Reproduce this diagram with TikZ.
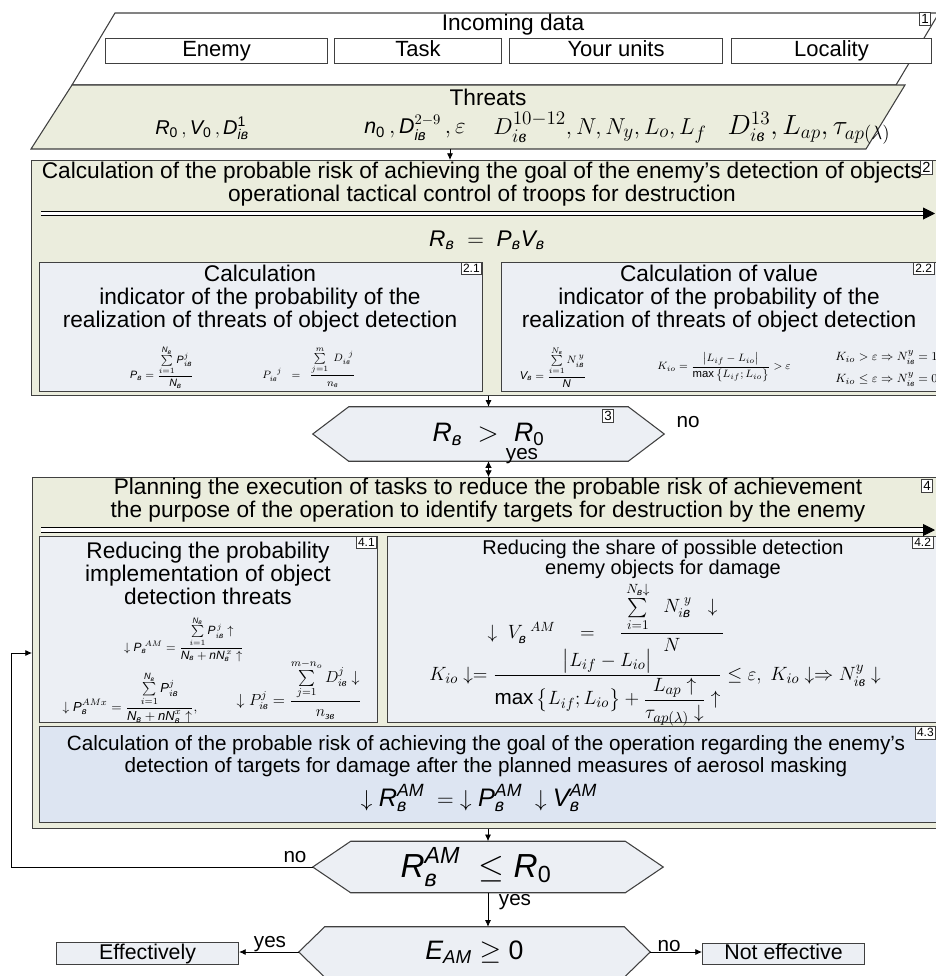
\documentclass[tikz,border=0pt]{standalone}
\usepackage{amsmath}
\usepackage{fontspec}
\setmainfont{Liberation Sans}
\newfontfamily\tmsfont{Liberation Serif}
\usepackage{tikz}
\usetikzlibrary{arrows.meta,backgrounds}
\definecolor{SchemeGreen}{RGB}{235,237,221}
\definecolor{SchemeGrey}{RGB}{236,239,244}
\definecolor{SchemeBlue}{RGB}{221,229,242}
\definecolor{SchemeLine}{RGB}{64,64,64}
\newcommand{\sv}[1]{\text{\itshape #1}}
\newcommand{\vv}{\text{\itshape в}}
\newcommand{\vs}{\text{\tmsfont\itshape в}}

\begin{document}
\begin{tikzpicture}[x=0.75pt,y=-0.75pt,
  every node/.style={font=\fontsize{17}{17.25}\selectfont},
  blk/.style n args={3}{draw=SchemeLine,fill=#1,minimum width=#2*0.75pt,minimum height=#3*0.75pt,anchor=north west,inner sep=0pt,line width=0.8pt,text height=12pt,text depth=3.6pt},
  txt/.style={align=center,inner sep=0pt},
  lbl/.style={draw=SchemeLine,fill=white,inner sep=1.5pt,minimum height=12*0.75pt,font=\fontsize{9}{9}\selectfont},
  arr/.style={line width=0.6pt,-{Latex[length=5pt,width=4.5pt]}},
  dline/.style={double,double distance=2.4pt,line width=0.7pt,-{Triangle[length=9pt,width=9pt]}},
  hexbg/.style={draw=SchemeLine,fill=SchemeGrey,line width=0.8pt},
  hex/.style n args={2}{inner sep=0pt,minimum width=#1*0.75pt,minimum height=#2*0.75pt},
  small/.style={inner sep=0pt,font=\fontsize{15.5}{15.5}\selectfont}]
\useasboundingbox (0,0) rectangle (936,976);
\clip (0,0) rectangle (936,976);

% incoming data
\filldraw[draw=SchemeLine,fill=white,line width=0.8pt] (115,13) -- (939,13) -- (896,85) -- (72,85) -- cycle;
\node[txt] (incoming) at (513,25) {Incoming data};
\node[lbl,anchor=north east,font=\fontsize{10}{10}\selectfont] (lab1) at (931,12) {1};
\node[blk={white}{222}{25},font=\fontsize{16.5}{17}\selectfont] (enemy) at (105,38) {Enemy};
\node[blk={white}{167}{25},font=\fontsize{16.5}{17}\selectfont] (task) at (334,38) {Task};
\node[blk={white}{213}{25},font=\fontsize{16.5}{17}\selectfont] (units) at (509,38) {Your units};
\node[blk={white}{200}{25},font=\fontsize{16.5}{17}\selectfont] (locality) at (731,38) {Locality};

% threats
\filldraw[draw=SchemeLine,fill=SchemeGreen,line width=0.8pt] (72,85) -- (905,85) -- (866,149) -- (31,149) -- cycle;
\node[txt] (threats) at (488,97) {Threats};
\node[txt,font=\fontsize{15}{15}\selectfont] (thr1) at (202,128) {$\sv{R}_{\text{0}}\,,\sv{V}_{\text{0}}\,,\sv{D}^{\text{1}}_{\sv{iв}}$};
\node[txt,font=\fontsize{16}{16}\selectfont] (thr2) at (415,128) {$\sv{n}_{\text{0}}\,,\sv{D}^{2-9}_{\sv{iв}}\,,\varepsilon$};
\node[txt,font=\fontsize{19}{19}\selectfont] (thr3) at (600,128) {$D^{10-12}_{i\vs},N,N_y,L_o,L_f$};
\node[txt,font=\fontsize{19.5}{19.5}\selectfont] (thr4) at (809,128) {$D^{13}_{i\vs},L_{ap},\tau_{ap(\lambda)}$};
\coordinate (thrb) at (450,149);

% block 2
\node[blk={SchemeGreen}{915}{235}] (b2) at (31,160) {};
\node[txt] (b2t) at (482,184) {Calculation of the probable risk of achieving the goal of the enemy's detection of objects\\operational tactical control of troops for destruction};
\node[lbl,anchor=north west,font=\fontsize{11}{11}\selectfont] (lab2) at (920,160) {2};
\coordinate (dl2s) at (41,213.5);
\coordinate (dl2e) at (935,213.5);
\node[txt,font=\fontsize{17}{17}\selectfont] (risk) at (487,240) {$\sv{R}_{\vv}\;=\;\sv{P}_{\vv}\sv{V}_{\vv}$};

\node[blk={SchemeGrey}{443}{129}] (b21) at (39,262) {};
\node[lbl,anchor=north east] (lab21) at (482,262) {2.1};
\node[txt] (b21t) at (260,299) {Calculation\\indicator of the probability of the\\realization of threats of object detection};
\node[txt,font=\fontsize{8}{8}\selectfont] (f21a) at (162,367) {$\sv{P}_{\vv}=\dfrac{\sum\limits_{i=1}^{\sv{N}_{\vv}}\sv{P}^{j}_{i\vv}}{\sv{N}_{\vv}}$};
\node[txt,font=\fontsize{8}{8}\selectfont] (f21b) at (309,367) {$P_{i\vs}^{\;\;j}\;\;=\;\;\dfrac{\sum\limits_{j=1}^{m}\;D_{i\vs}^{\;\;j}}{n_{\vs}}$};

\node[blk={SchemeGrey}{445}{129}] (b22) at (501,262) {};
\node[lbl,anchor=north west] (lab22) at (913,262) {2.2};
\node[txt] (b22t) at (719,299) {Calculation of value\\indicator of the probability of the\\realization of threats of object detection};
\node[txt,font=\fontsize{8.5}{8.5}\selectfont] (f22a) at (553,367) {$\sv{V}_{\vv}=\dfrac{\sum\limits_{i=1}^{N_{\vv}}N^{\,y}_{i\vv}}{\sv{N}}$};
\node[txt,font=\fontsize{8.5}{8.5}\selectfont] (f22b) at (724,367) {$K_{io}=\dfrac{\left|L_{if}-L_{io}\right|}{\max\left\{L_{if};L_{io}\right\}}>\varepsilon$};
\node[txt,anchor=west,font=\fontsize{9.5}{9.5}\selectfont] (f22c) at (835,358) {$K_{io}>\varepsilon\Rightarrow N^{y}_{i\vs}=1$};
\node[txt,anchor=west,font=\fontsize{9.5}{9.5}\selectfont] (f22d) at (835,380) {$K_{io}\le\varepsilon\Rightarrow N^{y}_{i\vs}=0$};

% decision 3
\node[hex={279}{54},font=\fontsize{20}{20}\selectfont] (cmp1) at (488.5,434) {$\sv{R}_{\vv}\;>\;\sv{R}_{\text{0}}$};
\begin{scope}[on background layer]
\filldraw[hexbg] (cmp1.north west) -- (cmp1.north east) -- ([xshift=36*0.75pt]cmp1.east) coordinate (cmp1r) -- (cmp1.south east) -- (cmp1.south west) -- ([xshift=-36*0.75pt]cmp1.west) coordinate (cmp1l) -- cycle;
\end{scope}
\node[lbl,anchor=north west,font=\fontsize{10}{10}\selectfont] (lab3) at (602,409) {3};
\node[small] (no1) at (688,422) {no};
\node[small] (yes1) at (522,456) {yes};

% block 4
\node[blk={SchemeGreen}{914}{351}] (b4) at (32,477) {};
\node[txt] (b4t) at (488,500) {Planning the execution of tasks to reduce the probable risk of achievement\\the purpose of the operation to identify targets for destruction by the enemy};
\node[lbl,anchor=north west,font=\fontsize{10}{10}\selectfont] (lab4) at (921,479) {4};
\coordinate (dl4s) at (41,530);
\coordinate (dl4e) at (935,530);

\node[blk={SchemeGrey}{338}{186}] (b41) at (39,536) {};
\node[lbl,anchor=north east] (lab41) at (377,536) {4.1};
\node[txt] (b41t) at (208,573) {Reducing the probability\\implementation of object\\detection threats};
\node[txt,font=\fontsize{9}{9}\selectfont] (f41a) at (184,639) {$\downarrow\sv{P}_{\vv}^{\;AM}=\dfrac{\sum\limits_{i=1}^{\sv{N}_{\vv}}\sv{P}^{\,j}_{i\vv}\uparrow}{\sv{N}_{\vv}+\sv{nN}^{\,x}_{\vv}\uparrow}$};
\node[txt,font=\fontsize{9.8}{9.8}\selectfont] (f41b) at (130,698) {$\downarrow\sv{P}_{\vv}^{AMx}=\dfrac{\sum\limits_{i=1}^{\sv{N}_{\vv}}\sv{P}^{j}_{i\vv}}{\sv{N}_{\vv}+\sv{nN}^{x}_{\vv}\uparrow},$};
\node[txt,font=\fontsize{11.5}{11.5}\selectfont] (f41c) at (299,689) {$\downarrow P_{i\vs}^{j}=\dfrac{\sum\limits_{j=1}^{m-n_o}D^{j}_{i\vs}\downarrow}{n_{\text{\tmsfont\itshape зв}}}$};

\node[blk={SchemeGrey}{559}{186}] (b42) at (387,536) {};
\node[lbl,anchor=north west] (lab42) at (912,536) {4.2};
\node[txt,font=\fontsize{15}{15}\selectfont] (b42t) at (663,559) {Reducing the share of possible detection\\enemy objects for damage};
\node[txt,font=\fontsize{14.5}{14.5}\selectfont] (f42a) at (606,617) {$\downarrow\;V_{\vv}^{\;\;AM}\quad=\quad\dfrac{\;\sum\limits_{i=1}^{N_{\vv}\downarrow}\;\;N^{\;y}_{i\vv}\;\;\downarrow\;}{N}$};
\node[txt,font=\fontsize{15.5}{15.5}\selectfont] (f42b) at (655,688) {$K_{io}\downarrow=\dfrac{\left|L_{if}-L_{io}\right|}{\max\left\{L_{if};L_{io}\right\}+\dfrac{L_{ap}\uparrow}{\tau_{ap(\lambda)}\downarrow}\uparrow}\le\varepsilon,\ K_{io}\downarrow\Rightarrow N^{y}_{i\vs}\downarrow$};

\node[blk={SchemeBlue}{907}{96}] (b43) at (39,726) {};
\node[lbl,anchor=north east] (lab43) at (936,726) {4.3};
\node[txt,font=\fontsize{15.5}{16.5}\selectfont] (b43t) at (486,756) {Calculation of the probable risk of achieving the goal of the operation regarding the enemy's\\detection of targets for damage after the planned measures of aerosol masking};
\node[txt,font=\fontsize{19}{19}\selectfont] (f43) at (479,798) {$\downarrow\sv{R}_{\vv}^{\sv{AM}}\;=\;\downarrow\sv{P}_{\vv}^{\sv{AM}}\;\downarrow\sv{V}_{\vv}^{\sv{AM}}$};

% decisions at the bottom
\node[hex={274}{51},font=\fontsize{25}{25}\selectfont] (cmp2) at (488,867) {$\sv{R}_{\vv}^{\sv{AM}}\;\le\sv{R}_{\text{0}}\hspace{18pt}$};
\node[hex={299}{50},font=\fontsize{20}{20}\selectfont] (cmp3) at (474.5,952) {$\sv{E}_{\sv{AM}}\ge\text{0}$};
\begin{scope}[on background layer]
\filldraw[hexbg] (cmp2.north west) -- (cmp2.north east) -- ([xshift=38*0.75pt]cmp2.east) coordinate (cmp2r) -- (cmp2.south east) -- (cmp2.south west) -- ([xshift=-38*0.75pt]cmp2.west) coordinate (cmp2l) -- cycle;
\filldraw[hexbg] (cmp3.north west) -- (cmp3.north east) -- ([xshift=26*0.75pt]cmp3.east) coordinate (cmp3r) -- (cmp3.south east) -- (cmp3.south west) -- ([xshift=-26*0.75pt]cmp3.west) coordinate (cmp3l) -- cycle;
\end{scope}
\node[small] (no2) at (295,857) {no};
\node[small] (yes2) at (515,902) {yes};
\node[small] (yes3) at (270,944) {yes};
\node[small] (no3) at (669,946) {no};
\node[blk={SchemeGrey}{182}{22},font=\fontsize{16}{16}\selectfont] (eff) at (56,942) {Effectively};
\node[blk={SchemeGrey}{162}{21},font=\fontsize{16}{16}\selectfont] (neff) at (702,943) {Not effective};
\coordinate (fbk) at (11,653);

% connectors
\draw[arr] (thrb) -- (thrb |- b2.north);
\draw[dline] (dl2s) -- (dl2e);
\draw[dline] (dl4s) -- (dl4e);
\draw[arr] (b2.south -| cmp1.north) -- (cmp1.north);
\draw[line width=0.6pt,{Latex[length=5pt,width=5pt]}-{Latex[length=5pt,width=5pt]}] (cmp1.south) -- (cmp1.south |- b4.north);
\draw[arr] (b4.south -| cmp2.north) -- (cmp2.north);
\draw[arr] (cmp2.south) -- (cmp2.south |- cmp3.north);
\draw[arr] (cmp2l) -| (fbk) -- (fbk -| b4.west);
\draw[arr] (cmp3l) -- (cmp3l -| eff.east);
\draw[arr] (cmp3r) -- (cmp3r -| neff.west);
\end{tikzpicture}
\end{document}
